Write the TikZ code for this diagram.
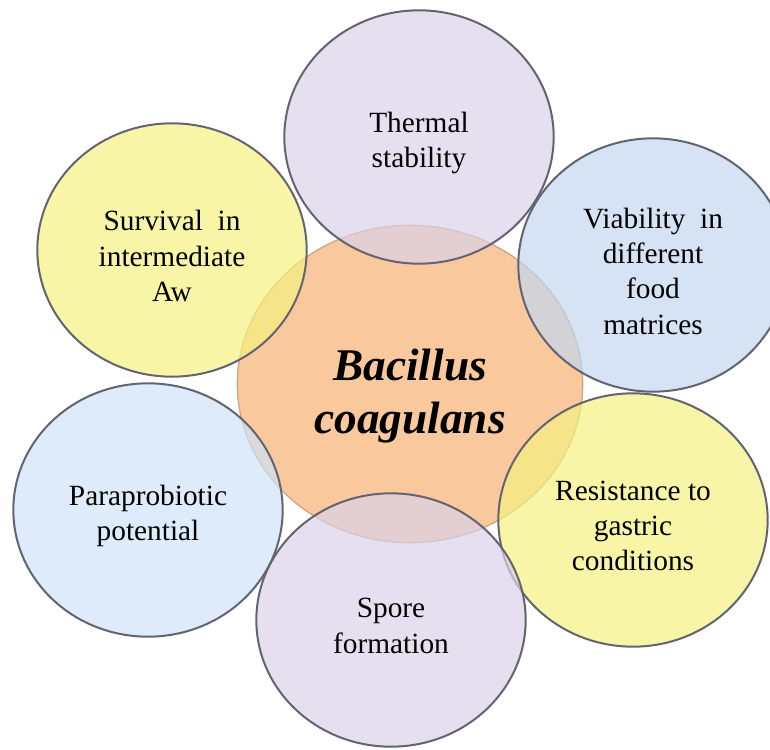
\documentclass[tikz,border=0pt]{standalone}
\usepackage{fontspec}
\setmainfont{Liberation Serif}
\usepackage{tikz}
\usetikzlibrary{shapes.geometric}

\definecolor{coreFill}{RGB}{249,200,156}
\definecolor{coreLine}{RGB}{205,165,135}
\definecolor{lavFill}{RGB}{218,209,232}
\definecolor{yelFill}{RGB}{245,241,128}
\definecolor{bluFill}{RGB}{196,215,239}
\definecolor{skyFill}{RGB}{206,226,248}
\definecolor{rimLine}{RGB}{100,100,112}

\begin{document}
\begin{tikzpicture}[
    x=0.75pt, y=-0.75pt,
    core_ell/.style={ellipse, draw=coreLine, line width=1pt, fill=coreFill, minimum width=259pt, minimum height=238pt, inner sep=0pt},
    core_txt/.style={align=center, yshift=-9pt, font=\fontsize{34}{40}\selectfont\bfseries\itshape},
    trait_ell/.style={ellipse, draw=rimLine, line width=1.5pt, fill opacity=0.7, minimum width=202pt, minimum height=190pt, inner sep=0pt},
    trait_txt/.style={align=center, yshift=-4.5pt, text opacity=1, fill opacity=1, font=\fontsize{22}{26.5}\selectfont}
]
\useasboundingbox (0,0) rectangle (770,749);

% centre
\node[core_ell, label={[core_txt]center:Bacillus\\coagulans}] (core) at (410,384) {};

% traits round the centre
\node[trait_ell, fill=lavFill, label={[trait_txt]center:Thermal\\stability}] (thermal) at (419,137) {};
\node[trait_ell, fill=bluFill, label={[trait_txt]center:Viability~ in\\different\\food\\matrices}] (viab) at (653,265) {};
\node[trait_ell, fill=yelFill, label={[trait_txt]center:Resistance to\\gastric\\conditions}] (resist) at (633,520) {};
\node[trait_ell, fill=lavFill, label={[trait_txt]center:Spore\\formation}] (spore) at (391,620) {};
\node[trait_ell, fill=skyFill, label={[trait_txt]center:Paraprobiotic\\potential}] (parap) at (148,510) {};
\node[trait_ell, fill=yelFill, label={[trait_txt]center:Survival~ in\\intermediate\\Aw}] (surv) at (172,250) {};

\end{tikzpicture}
\end{document}
